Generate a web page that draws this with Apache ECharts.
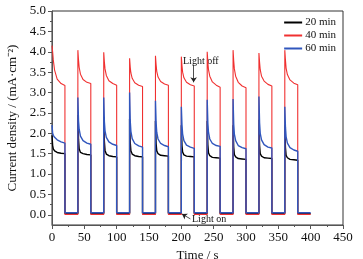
<!DOCTYPE html>
<html>
<head>
<meta charset="utf-8">
<script src="https://cdn.jsdelivr.net/npm/echarts@6/dist/echarts.min.js"></script>
<style>
  html, body { margin: 0; padding: 0; background: #fff; }
  #main { width: 363px; height: 259px; }
</style>
</head>
<body>
<div id="main"></div>
<script>
// time axis (s) - each light cycle: on 20 s, off 20 s
var time = [
  0, 1, 2, 4, 8, 14, 20, 20, 40,
  40, 41, 42, 44, 48, 54, 60, 60, 80,
  80, 81, 82, 84, 88, 94, 100, 100, 120,
  120, 121, 122, 124, 128, 134, 140, 140, 160,
  160, 161, 162, 164, 168, 174, 180, 180, 200,
  200, 201, 202, 204, 208, 214, 220, 220, 240,
  240, 241, 242, 244, 248, 254, 260, 260, 280,
  280, 281, 282, 284, 288, 294, 300, 300, 320,
  320, 321, 322, 324, 328, 334, 340, 340, 360,
  360, 361, 362, 364, 368, 374, 380, 380, 400
];

// current density (mA·cm-2)
var cur20 = [
  1.95, 1.70, 1.62, 1.57, 1.53, 1.51, 1.50, 0.03, 0.03,
  2.45, 1.85, 1.62, 1.53, 1.50, 1.48, 1.47, 0.03, 0.03,
  2.40, 1.80, 1.58, 1.49, 1.45, 1.43, 1.42, 0.03, 0.03,
  2.35, 1.78, 1.57, 1.49, 1.45, 1.43, 1.42, 0.03, 0.03,
  2.30, 1.75, 1.57, 1.50, 1.46, 1.45, 1.44, 0.03, 0.03,
  2.20, 1.70, 1.54, 1.47, 1.44, 1.43, 1.42, 0.03, 0.03,
  2.30, 1.72, 1.52, 1.45, 1.41, 1.40, 1.39, 0.03, 0.03,
  2.20, 1.66, 1.48, 1.42, 1.38, 1.37, 1.36, 0.03, 0.03,
  2.33, 1.70, 1.50, 1.44, 1.40, 1.39, 1.38, 0.03, 0.03,
  2.20, 1.65, 1.46, 1.40, 1.36, 1.35, 1.34, 0.03, 0.03
];
var cur40 = [
  4.15, 4.00, 3.80, 3.55, 3.33, 3.22, 3.17, 0.01, 0.01,
  4.04, 3.80, 3.62, 3.45, 3.32, 3.25, 3.22, 0.01, 0.01,
  3.99, 3.75, 3.58, 3.42, 3.29, 3.22, 3.18, 0.01, 0.01,
  3.84, 3.62, 3.48, 3.35, 3.24, 3.18, 3.15, 0.01, 0.01,
  3.90, 3.68, 3.52, 3.38, 3.27, 3.21, 3.18, 0.01, 0.01,
  3.88, 3.66, 3.50, 3.36, 3.25, 3.19, 3.16, 0.01, 0.01,
  4.00, 3.75, 3.56, 3.40, 3.26, 3.18, 3.13, 0.01, 0.01,
  4.04, 3.78, 3.58, 3.40, 3.25, 3.16, 3.12, 0.01, 0.01,
  3.97, 3.74, 3.56, 3.40, 3.28, 3.20, 3.16, 0.01, 0.01,
  4.04, 3.80, 3.60, 3.44, 3.31, 3.23, 3.19, 0.01, 0.01
];
var cur60 = [
  2.20, 2.00, 1.95, 1.90, 1.84, 1.79, 1.76, 0.05, 0.05,
  2.88, 2.30, 2.10, 1.93, 1.82, 1.76, 1.73, 0.05, 0.05,
  2.88, 2.28, 2.06, 1.90, 1.79, 1.73, 1.70, 0.05, 0.05,
  3.00, 2.30, 2.05, 1.87, 1.75, 1.69, 1.66, 0.05, 0.05,
  2.80, 2.25, 2.02, 1.86, 1.75, 1.70, 1.67, 0.05, 0.05,
  2.65, 2.20, 1.98, 1.82, 1.71, 1.66, 1.63, 0.05, 0.05,
  2.82, 2.25, 2.02, 1.86, 1.75, 1.70, 1.68, 0.05, 0.05,
  2.84, 2.22, 1.98, 1.82, 1.70, 1.65, 1.62, 0.05, 0.05,
  2.90, 2.25, 2.00, 1.84, 1.72, 1.66, 1.64, 0.05, 0.05,
  2.65, 2.15, 1.92, 1.76, 1.65, 1.59, 1.56, 0.05, 0.05
];

var seriesNames = ['20 min', '40 min', '60 min'];
var yTicks = [0, 0.5, 1, 1.5, 2, 2.5, 3, 3.5, 4, 4.5, 5];
var yMinorTicks = [0.25, 0.75, 1.25, 1.75, 2.25, 2.75, 3.25, 3.75, 4.25, 4.75];

var font = 'Liberation Serif';

function pairs(arr) {
  return time.map(function (t, i) { return [t, arr[i]]; });
}

var chart = echarts.init(document.getElementById('main'), null, { renderer: 'canvas' });

var option = {
  animation: false,
  backgroundColor: '#fff',
  textStyle: { fontFamily: font },
  grid: {
    left: 52, right: 20, top: 11, bottom: 34,
    outerBoundsMode: 'none',
    containLabel: false,
    show: true, borderColor: '#333', borderWidth: 1
  },
  legend: {
    data: seriesNames,
    orient: 'vertical',
    right: 22, top: 12,
    itemWidth: 18, itemHeight: 2, itemGap: 2,
    icon: 'rect',
    textStyle: { fontFamily: font, fontSize: 11, color: '#111', padding: [0, 0, 0, -2] }
  },
  xAxis: {
    type: 'value',
    min: 0, max: 450, interval: 50,
    name: 'Time / s',
    nameLocation: 'middle',
    nameGap: 18,
    nameTextStyle: { fontFamily: font, fontSize: 13, color: '#111' },
    axisLine: { onZero: false, lineStyle: { color: '#555' } },
    axisTick: { length: 4, lineStyle: { color: '#555' } },
    minorTick: { show: true, splitNumber: 2, length: 2, lineStyle: { color: '#555' } },
    axisLabel: { fontFamily: font, fontSize: 13, color: '#111', margin: 6 },
    splitLine: { show: false }
  },
  yAxis: [
    {
      type: 'value',
      min: -0.25, max: 5,
      name: 'Current density / (mA·cm⁻²)',
      nameLocation: 'middle',
      nameGap: 30,
      nameTextStyle: { fontFamily: font, fontSize: 13, color: '#111' },
      axisLine: { lineStyle: { color: '#555' } },
      axisTick: { customValues: yTicks, length: 4, lineStyle: { color: '#555' } },
      axisLabel: {
        customValues: yTicks, fontFamily: font, fontSize: 13, color: '#111', margin: 6,
        formatter: function (v) { return v.toFixed(1); }
      },
      splitLine: { show: false }
    },
    {
      type: 'value',
      min: -0.25, max: 5,
      position: 'left',
      axisLine: { show: false },
      axisTick: { customValues: yMinorTicks, length: 2, lineStyle: { color: '#555' } },
      axisLabel: { show: false },
      splitLine: { show: false }
    }
  ],
  series: [
    {
      name: seriesNames[0], type: 'line', data: pairs(cur20),
      symbol: 'none', color: '#000',
      lineStyle: { width: 1.4, color: '#000' }
    },
    {
      name: seriesNames[1], type: 'line', data: pairs(cur40),
      symbol: 'none', color: '#f03030',
      lineStyle: { width: 1.1, color: '#f03030' },
      markLine: {
        silent: true,
        symbol: ['none', 'arrow'],
        symbolSize: 5,
        label: { show: false },
        lineStyle: { color: '#222', width: 0.8, type: 'solid' },
        data: [
          [{ coord: [219, 3.68] }, { coord: [219, 3.25] }],
          [{ coord: [214, -0.1] }, { coord: [201, 0.02] }]
        ]
      }
    },
    {
      name: seriesNames[2], type: 'line', data: pairs(cur60),
      symbol: 'none', color: '#3056bd',
      lineStyle: { width: 1.4, color: '#3056bd' }
    }
  ],
  graphic: [
    { type: 'text', left: 183, top: 56, style: { text: 'Light off', font: '10px "Liberation Serif"', fill: '#111' } },
    { type: 'text', left: 192, top: 214, style: { text: 'Light on', font: '10px "Liberation Serif"', fill: '#111' } }
  ]
};

chart.setOption(option);
</script>
</body>
</html>
